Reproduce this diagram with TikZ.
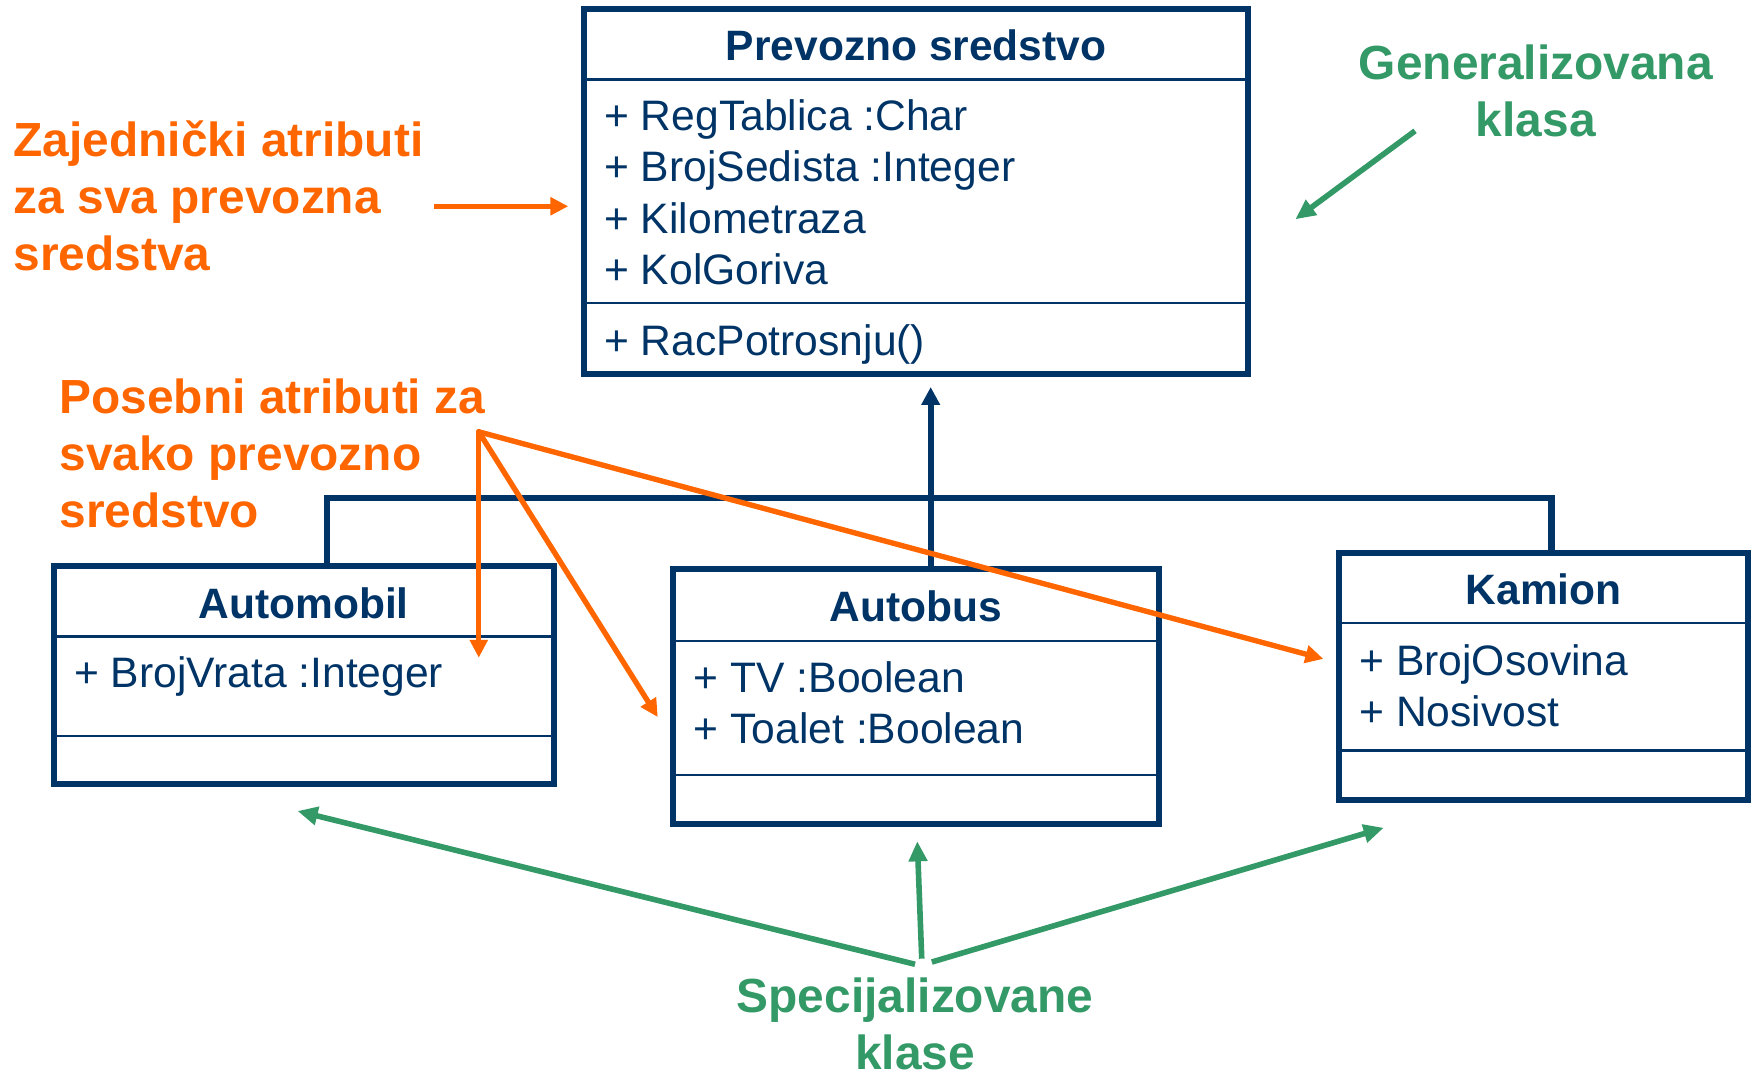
\documentclass[tikz,border=0pt]{standalone}
\usepackage{fontspec}
\setmainfont{Liberation Sans}
\usetikzlibrary{arrows.meta}

\definecolor{umlplava}{RGB}{0,51,102}
\definecolor{narandzasta}{RGB}{255,102,0}
\definecolor{zelena}{RGB}{51,153,102}

\newcommand{\atrfont}{\fontsize{38.1}{46}\selectfont}
\newcommand{\naslovfont}{\fontsize{38}{46}\selectfont\bfseries}
\newcommand{\oznakafont}{\fontsize{42.8}{51}\selectfont\bfseries}

\tikzset{
  klasa/.style={draw=umlplava, line width=5.4pt, inner sep=0pt, outer sep=0pt},
  pregrada/.style={draw=umlplava, line width=2pt},
  naslov/.style={font=\naslovfont, text=umlplava, inner sep=0pt, text height=27pt, text depth=0pt},
  atribut/.style={font=\atrfont, text=umlplava, inner sep=0pt, anchor=west, text height=27.3pt, text depth=0pt},
  oznaka/.style={font=\oznakafont, inner sep=0pt, anchor=north west, align=left},
  nasledje/.style={draw=umlplava, line width=5.5pt},
  narstrelica/.style={draw=narandzasta, line width=4.8pt, -{Triangle[length=16pt,width=15.5pt]}},
  zelstrelica/.style={draw=zelena, line width=5pt, -{Triangle[length=18pt,width=16pt]}},
}

\begin{document}
\begin{tikzpicture}[x=1pt,y=-1pt]
  \useasboundingbox (0,0) rectangle (1568,964.6);

  %% klase
  \node[klasa, minimum width=594pt, minimum height=326pt] (prevozno) at (819,171) {};
  \node[klasa, minimum width=447pt, minimum height=195pt] (automobil) at (271.5,603.5) {};
  \node[klasa, minimum width=434pt, minimum height=228pt] (autobus) at (819,623) {};
  \node[klasa, minimum width=366pt, minimum height=221pt] (kamion) at (1380,604.5) {};

  %% pregrade
  \draw[pregrada] ([yshift=-63pt]prevozno.north west) -- ([yshift=-63pt]prevozno.north east);
  \draw[pregrada] ([yshift=-263pt]prevozno.north west) -- ([yshift=-263pt]prevozno.north east);
  \draw[pregrada] ([yshift=-63pt]automobil.north west) -- ([yshift=-63pt]automobil.north east);
  \draw[pregrada] ([yshift=-152pt]automobil.north west) -- ([yshift=-152pt]automobil.north east);
  \draw[pregrada] ([yshift=-64pt]autobus.north west) -- ([yshift=-64pt]autobus.north east);
  \draw[pregrada] ([yshift=-184pt]autobus.north west) -- ([yshift=-184pt]autobus.north east);
  \draw[pregrada] ([yshift=-63pt]kamion.north west) -- ([yshift=-63pt]kamion.north east);
  \draw[pregrada] ([yshift=-177pt]kamion.north west) -- ([yshift=-177pt]kamion.north east);

  %% nazivi klasa
  \node[naslov] (prevozno-naslov) at ([yshift=-33pt]prevozno.north) {Prevozno sredstvo};
  \node[naslov] (automobil-naslov) at ([yshift=-33pt]automobil.north) {Automobil};
  \node[naslov] (autobus-naslov) at ([yshift=-33pt]autobus.north) {Autobus};
  \node[naslov] (kamion-naslov) at ([yshift=-33pt]kamion.north) {Kamion};

  %% atributi i metode
  \foreach \tekst [count=\i from 0] in {+ RegTablica :Char, + BrojSedista :Integer, + Kilometraza, + KolGoriva}
    \node[atribut] (prevozno-atr\i) at ([shift={(18pt,-95pt-46pt*\i)}]prevozno.north west) {\tekst};
  \node[atribut] (prevozno-met) at ([shift={(18pt,-296pt)}]prevozno.north west) {+ RacPotrosnju()};
  \node[atribut] (automobil-atr) at ([shift={(18pt,-95pt)}]automobil.north west) {+ BrojVrata :Integer};
  \node[atribut] (autobus-atr0) at ([shift={(18pt,-96pt)}]autobus.north west) {+ TV :Boolean};
  \node[atribut] (autobus-atr1) at ([shift={(18pt,-142pt)}]autobus.north west) {+ Toalet :Boolean};
  \node[atribut] (kamion-atr0) at ([shift={(18pt,-96pt)}]kamion.north west) {+ BrojOsovina};
  \node[atribut] (kamion-atr1) at ([shift={(18pt,-142pt)}]kamion.north west) {+ Nosivost};

  %% nasledjivanje
  \coordinate (jA) at (292,445);
  \coordinate (jB) at (832,445);
  \coordinate (jK) at (1387,445);
  \draw[nasledje] (jA |- automobil.north) -- (jA) -- (jK) -- (jK |- kamion.north);
  \draw[nasledje, -{Triangle[length=16pt,width=16pt]}, shorten >=12pt] (jB |- autobus.north) -- (jB |- prevozno.south);

  %% oznake
  \node[oznaka, text=narandzasta] (zajednicki) at (12,108) {Zajednički atributi\\za sva prevozna\\sredstva};
  \node[oznaka, text=narandzasta] (posebni) at (53,338) {Posebni atributi za\\svako prevozno\\sredstvo};
  \node[oznaka, text=zelena, anchor=north, align=center] (generalizovana) at (1373,40) {Generalizovana\\klasa};
  \node[oznaka, text=zelena, anchor=north, align=center] (specijalizovane) at (818,874) {Specijalizovane\\klase};

  %% strelice
  \draw[narstrelica, shorten <=9pt, shorten >=14pt] ([yshift=-9pt]zajednicki.east) -- ([yshift=-9pt]zajednicki.east -| prevozno.west);
  \coordinate (posebni-vrh) at (428,386);
  \coordinate (cilj-automobil) at (428,588);
  \coordinate (cilj-autobus) at (588,641);
  \coordinate (cilj-kamion) at (1183,589);
  \foreach \cilj in {automobil,autobus,kamion}
    \draw[narstrelica, line cap=round] (posebni-vrh) -- (cilj-\cilj);

  \coordinate (gen-start) at (1265,117);
  \coordinate (gen-cilj) at (1158,196);
  \draw[zelstrelica] (gen-start) -- (gen-cilj);
  \coordinate (spec-l) at (818,862);
  \coordinate (spec-s) at (824,857);
  \coordinate (spec-d) at (833,860);
  \draw[zelstrelica] (spec-l) -- (266,725);
  \draw[zelstrelica] (spec-s) -- (820,752);
  \draw[zelstrelica] (spec-d) -- (1237,740);
\end{tikzpicture}
\end{document}
